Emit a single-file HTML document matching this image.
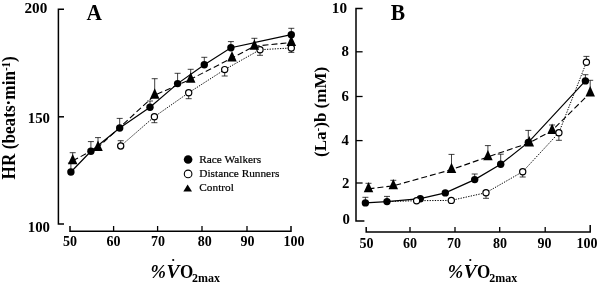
<!DOCTYPE html>
<html><head><meta charset="utf-8"><title>Figure</title>
<style>
html,body{margin:0;padding:0;background:#fff;}
body{width:600px;height:285px;overflow:hidden;}
svg{display:block;will-change:transform;}
text{font-family:"Liberation Serif",serif;fill:#000;}
</style></head>
<body>
<svg width="600" height="285" viewBox="0 0 600 285">
<rect width="600" height="285" fill="#fff"/>
<path d="M64 9.2 L58.4 9.2 L58.4 224 L64 224" stroke="#000" stroke-width="1.5" fill="none"/>
<path d="M58.4 116.8 L64 116.8" stroke="#000" stroke-width="1.5" fill="none"/>
<path d="M70 226 L70 231.3 L291 231.3 L291 226" stroke="#000" stroke-width="1.5" fill="none"/>
<path d="M113.6 226 L113.6 231.3" stroke="#000" stroke-width="1.3" fill="none"/>
<path d="M157.6 226 L157.6 231.3" stroke="#000" stroke-width="1.3" fill="none"/>
<path d="M202 226 L202 231.3" stroke="#000" stroke-width="1.3" fill="none"/>
<path d="M247 226 L247 231.3" stroke="#000" stroke-width="1.3" fill="none"/>
<path d="M120.70 146.00 L154.40 116.70 L188.70 92.70 L224.70 69.60 L260.00 49.70 L291.30 48.00" stroke="#000" stroke-width="1.0" fill="none" stroke-dasharray="1.3 1.3"/>
<path d="M72.70 160.83 L98.00 147.43 L154.70 95.23 L190.70 79.23 L232.00 58.03 L254.40 46.23 L291.30 42.53" stroke="#000" stroke-width="1.1" fill="none" stroke-dasharray="6 3"/>
<path d="M70.90 172.00 L90.90 151.30 L119.70 128.00 L150.00 107.30 L177.60 83.60 L204.30 64.70 L230.90 47.70 L291.30 34.70" stroke="#000" stroke-width="1.2" fill="none"/>
<path d="M120.70 146.00 L120.70 140.70 M117.70 140.70 L123.70 140.70" stroke="#000" stroke-width="0.75" fill="none"/>
<path d="M154.40 116.70 L154.40 122.70 M151.40 122.70 L157.40 122.70" stroke="#000" stroke-width="0.75" fill="none"/>
<path d="M188.70 92.70 L188.70 98.70 M185.70 98.70 L191.70 98.70" stroke="#000" stroke-width="0.75" fill="none"/>
<path d="M224.70 69.60 L224.70 76.00 M221.70 76.00 L227.70 76.00" stroke="#000" stroke-width="0.75" fill="none"/>
<path d="M260.00 49.70 L260.00 55.30 M257.00 55.30 L263.00 55.30" stroke="#000" stroke-width="0.75" fill="none"/>
<path d="M291.30 48.00 L291.30 52.40 M288.30 52.40 L294.30 52.40" stroke="#000" stroke-width="0.75" fill="none"/>
<path d="M72.70 160.83 L72.70 152.70 M69.70 152.70 L75.70 152.70" stroke="#000" stroke-width="0.75" fill="none"/>
<path d="M98.00 147.43 L98.00 137.60 M95.00 137.60 L101.00 137.60" stroke="#000" stroke-width="0.75" fill="none"/>
<path d="M154.70 95.23 L154.70 78.70 M151.70 78.70 L157.70 78.70" stroke="#000" stroke-width="0.75" fill="none"/>
<path d="M190.70 79.23 L190.70 69.30 M187.70 69.30 L193.70 69.30" stroke="#000" stroke-width="0.75" fill="none"/>
<path d="M254.40 46.23 L254.40 38.30 M251.40 38.30 L257.40 38.30" stroke="#000" stroke-width="0.75" fill="none"/>
<path d="M70.90 172.00 L70.90 163.00 M67.90 163.00 L73.90 163.00" stroke="#000" stroke-width="0.75" fill="none"/>
<path d="M90.90 151.30 L90.90 141.60 M87.90 141.60 L93.90 141.60" stroke="#000" stroke-width="0.75" fill="none"/>
<path d="M119.70 128.00 L119.70 118.40 M116.70 118.40 L122.70 118.40" stroke="#000" stroke-width="0.75" fill="none"/>
<path d="M150.00 107.30 L150.00 101.00 M147.00 101.00 L153.00 101.00" stroke="#000" stroke-width="0.75" fill="none"/>
<path d="M177.60 83.60 L177.60 73.30 M174.60 73.30 L180.60 73.30" stroke="#000" stroke-width="0.75" fill="none"/>
<path d="M204.30 64.70 L204.30 57.30 M201.30 57.30 L207.30 57.30" stroke="#000" stroke-width="0.75" fill="none"/>
<path d="M230.90 47.70 L230.90 41.60 M227.90 41.60 L233.90 41.60" stroke="#000" stroke-width="0.75" fill="none"/>
<path d="M291.30 34.70 L291.30 28.30 M288.30 28.30 L294.30 28.30" stroke="#000" stroke-width="0.75" fill="none"/>
<circle cx="120.7" cy="146" r="3.1" fill="#fff" stroke="#000" stroke-width="1.2"/>
<circle cx="154.4" cy="116.7" r="3.1" fill="#fff" stroke="#000" stroke-width="1.2"/>
<circle cx="188.7" cy="92.7" r="3.1" fill="#fff" stroke="#000" stroke-width="1.2"/>
<circle cx="224.7" cy="69.6" r="3.1" fill="#fff" stroke="#000" stroke-width="1.2"/>
<circle cx="260" cy="49.7" r="3.1" fill="#fff" stroke="#000" stroke-width="1.2"/>
<circle cx="291.3" cy="48" r="3.1" fill="#fff" stroke="#000" stroke-width="1.2"/>
<path d="M67.95 164.30 L77.45 164.30 L72.70 153.90 Z" fill="#000"/>
<path d="M93.25 150.90 L102.75 150.90 L98.00 140.50 Z" fill="#000"/>
<path d="M149.95 98.70 L159.45 98.70 L154.70 88.30 Z" fill="#000"/>
<path d="M185.95 82.70 L195.45 82.70 L190.70 72.30 Z" fill="#000"/>
<path d="M227.25 61.50 L236.75 61.50 L232.00 51.10 Z" fill="#000"/>
<path d="M249.65 49.70 L259.15 49.70 L254.40 39.30 Z" fill="#000"/>
<path d="M286.55 46.00 L296.05 46.00 L291.30 35.60 Z" fill="#000"/>
<circle cx="70.9" cy="172" r="3.7" fill="#000"/>
<circle cx="90.9" cy="151.3" r="3.7" fill="#000"/>
<circle cx="119.7" cy="128" r="3.7" fill="#000"/>
<circle cx="150" cy="107.3" r="3.7" fill="#000"/>
<circle cx="177.6" cy="83.6" r="3.7" fill="#000"/>
<circle cx="204.3" cy="64.7" r="3.7" fill="#000"/>
<circle cx="230.9" cy="47.7" r="3.7" fill="#000"/>
<circle cx="291.3" cy="34.7" r="3.7" fill="#000"/>
<circle cx="188.1" cy="159.5" r="4.3" fill="#000"/>
<circle cx="188.1" cy="173.9" r="3.8" fill="#fff" stroke="#000" stroke-width="1.1"/>
<path d="M183.3 191.4 L192 191.4 L187.65 184.6 Z" fill="#000"/>
<path d="M362.6 8.5 L356 8.5 L356 221 L364.4 221" stroke="#000" stroke-width="1.5" fill="none"/>
<path d="M356 51.8 L362.6 51.8" stroke="#000" stroke-width="1.3" fill="none"/>
<path d="M356 96.5 L362.6 96.5" stroke="#000" stroke-width="1.3" fill="none"/>
<path d="M356 140.6 L362.6 140.6" stroke="#000" stroke-width="1.3" fill="none"/>
<path d="M356 183 L362.6 183" stroke="#000" stroke-width="1.3" fill="none"/>
<path d="M366.2 227 L366.2 232 L590.2 232 L590.2 225" stroke="#000" stroke-width="1.5" fill="none"/>
<path d="M410 227 L410 232" stroke="#000" stroke-width="1.3" fill="none"/>
<path d="M455 227 L455 232" stroke="#000" stroke-width="1.3" fill="none"/>
<path d="M499.7 227 L499.7 232" stroke="#000" stroke-width="1.3" fill="none"/>
<path d="M545.2 227 L545.2 232" stroke="#000" stroke-width="1.3" fill="none"/>
<path d="M387.00 201.60 L416.60 200.70" stroke="#000" stroke-width="1.0" fill="none" stroke-dasharray="1.3 1.3"/>
<path d="M416.60 200.70 L451.30 200.40 L486.00 192.70 L522.70 171.70 L558.90 132.70 L586.40 62.30" stroke="#000" stroke-width="1.0" fill="none" stroke-dasharray="1.3 1.3"/>
<path d="M368.50 188.83 L393.30 185.83 L451.50 169.63 L487.90 156.83 L529.30 142.93 L552.10 130.53 L590.20 92.93" stroke="#000" stroke-width="1.1" fill="none" stroke-dasharray="6 3"/>
<path d="M365.40 202.90 L387.00 201.60 L420.30 198.70 L445.30 192.90 L474.70 179.60 L500.70 164.20 L528.30 142.40 L585.40 80.90" stroke="#000" stroke-width="1.2" fill="none"/>
<path d="M486.00 192.70 L486.00 198.30 M483.00 198.30 L489.00 198.30" stroke="#000" stroke-width="0.75" fill="none"/>
<path d="M522.70 171.70 L522.70 177.00 M519.70 177.00 L525.70 177.00" stroke="#000" stroke-width="0.75" fill="none"/>
<path d="M558.90 132.70 L558.90 140.30 M555.90 140.30 L561.90 140.30" stroke="#000" stroke-width="0.75" fill="none"/>
<path d="M586.40 62.30 L586.40 56.40 M583.40 56.40 L589.40 56.40" stroke="#000" stroke-width="0.75" fill="none"/>
<path d="M368.50 188.83 L368.50 183.30 M365.50 183.30 L371.50 183.30" stroke="#000" stroke-width="0.75" fill="none"/>
<path d="M393.30 185.83 L393.30 180.30 M390.30 180.30 L396.30 180.30" stroke="#000" stroke-width="0.75" fill="none"/>
<path d="M451.50 169.63 L451.50 154.40 M448.50 154.40 L454.50 154.40" stroke="#000" stroke-width="0.75" fill="none"/>
<path d="M487.90 156.83 L487.90 145.60 M484.90 145.60 L490.90 145.60" stroke="#000" stroke-width="0.75" fill="none"/>
<path d="M552.10 130.53 L552.10 125.00 M549.10 125.00 L555.10 125.00" stroke="#000" stroke-width="0.75" fill="none"/>
<path d="M590.20 92.93 L590.20 80.30 M587.20 80.30 L593.20 80.30" stroke="#000" stroke-width="0.75" fill="none"/>
<path d="M365.40 202.90 L365.40 197.30 M362.40 197.30 L368.40 197.30" stroke="#000" stroke-width="0.75" fill="none"/>
<path d="M387.00 201.60 L387.00 196.40 M384.00 196.40 L390.00 196.40" stroke="#000" stroke-width="0.75" fill="none"/>
<path d="M474.70 179.60 L474.70 174.00 M471.70 174.00 L477.70 174.00" stroke="#000" stroke-width="0.75" fill="none"/>
<path d="M500.70 164.20 L500.70 154.20 M497.70 154.20 L503.70 154.20" stroke="#000" stroke-width="0.75" fill="none"/>
<path d="M528.30 142.40 L528.30 130.40 M525.30 130.40 L531.30 130.40" stroke="#000" stroke-width="0.75" fill="none"/>
<path d="M585.40 80.90 L585.40 74.70 M582.40 74.70 L588.40 74.70" stroke="#000" stroke-width="0.75" fill="none"/>
<path d="M363.75 192.30 L373.25 192.30 L368.50 181.90 Z" fill="#000"/>
<path d="M388.55 189.30 L398.05 189.30 L393.30 178.90 Z" fill="#000"/>
<path d="M446.75 173.10 L456.25 173.10 L451.50 162.70 Z" fill="#000"/>
<path d="M483.15 160.30 L492.65 160.30 L487.90 149.90 Z" fill="#000"/>
<path d="M524.55 146.40 L534.05 146.40 L529.30 136.00 Z" fill="#000"/>
<path d="M547.35 134.00 L556.85 134.00 L552.10 123.60 Z" fill="#000"/>
<path d="M585.45 96.40 L594.95 96.40 L590.20 86.00 Z" fill="#000"/>
<circle cx="365.4" cy="202.9" r="3.7" fill="#000"/>
<circle cx="387" cy="201.6" r="3.7" fill="#000"/>
<circle cx="420.3" cy="198.7" r="3.7" fill="#000"/>
<circle cx="445.3" cy="192.9" r="3.7" fill="#000"/>
<circle cx="474.7" cy="179.6" r="3.7" fill="#000"/>
<circle cx="500.7" cy="164.2" r="3.7" fill="#000"/>
<circle cx="528.3" cy="142.4" r="3.7" fill="#000"/>
<circle cx="585.4" cy="80.9" r="3.7" fill="#000"/>
<circle cx="416.6" cy="200.7" r="3.1" fill="#fff" stroke="#000" stroke-width="1.2"/>
<circle cx="451.3" cy="200.4" r="3.1" fill="#fff" stroke="#000" stroke-width="1.2"/>
<circle cx="486" cy="192.7" r="3.1" fill="#fff" stroke="#000" stroke-width="1.2"/>
<circle cx="522.7" cy="171.7" r="3.1" fill="#fff" stroke="#000" stroke-width="1.2"/>
<circle cx="558.9" cy="132.7" r="3.1" fill="#fff" stroke="#000" stroke-width="1.2"/>
<circle cx="586.4" cy="62.3" r="3.1" fill="#fff" stroke="#000" stroke-width="1.2"/>
<text x="47.3" y="12.6" font-size="15.2" font-weight="bold" text-anchor="end" >200</text>
<text x="50" y="122.5" font-size="14.8" font-weight="bold" text-anchor="end" >150</text>
<text x="50" y="232" font-size="14.8" font-weight="bold" text-anchor="end" >100</text>
<text x="70" y="245.9" font-size="14" font-weight="bold" text-anchor="middle" >50</text>
<text x="113.6" y="245.9" font-size="14" font-weight="bold" text-anchor="middle" >60</text>
<text x="158" y="245.9" font-size="14" font-weight="bold" text-anchor="middle" >70</text>
<text x="204.7" y="245.9" font-size="14" font-weight="bold" text-anchor="middle" >80</text>
<text x="247.6" y="245.9" font-size="14" font-weight="bold" text-anchor="middle" >90</text>
<text x="293.9" y="245.9" font-size="14" font-weight="bold" text-anchor="middle" >100</text>
<g transform="translate(86.6,19.9) scale(0.915,1)"><text font-size="23.4" font-weight="bold">A</text></g>
<text x="347" y="13" font-size="15.2" font-weight="bold" text-anchor="end" >10</text>
<text x="348.8" y="55.8" font-size="14.8" font-weight="bold" text-anchor="end" >8</text>
<text x="348.8" y="100.5" font-size="14.8" font-weight="bold" text-anchor="end" >6</text>
<text x="348.8" y="145" font-size="14.8" font-weight="bold" text-anchor="end" >4</text>
<text x="349.5" y="188" font-size="14.8" font-weight="bold" text-anchor="end" >2</text>
<text x="350" y="224" font-size="14.8" font-weight="bold" text-anchor="end" >0</text>
<text x="366.4" y="247.8" font-size="14" font-weight="bold" text-anchor="middle" >50</text>
<text x="410" y="247.8" font-size="14" font-weight="bold" text-anchor="middle" >60</text>
<text x="454" y="247.8" font-size="14" font-weight="bold" text-anchor="middle" >70</text>
<text x="500" y="247.8" font-size="14" font-weight="bold" text-anchor="middle" >80</text>
<text x="544.4" y="247.8" font-size="14" font-weight="bold" text-anchor="middle" >90</text>
<text x="586.9" y="247.8" font-size="14" font-weight="bold" text-anchor="middle" >100</text>
<g transform="translate(390.8,20.0) scale(0.92,1)"><text font-size="23.4" font-weight="bold">B</text></g>
<text x="199.3" y="163" font-size="11.3" font-weight="normal" text-anchor="start" stroke="#000" stroke-width="0.2">Race Walkers</text>
<text x="199.3" y="177" font-size="11.3" font-weight="normal" text-anchor="start" stroke="#000" stroke-width="0.2">Distance Runners</text>
<text x="199.3" y="191" font-size="11.3" font-weight="normal" text-anchor="start" stroke="#000" stroke-width="0.2">Control</text>
<g transform="translate(14.6,179.4) rotate(-90) scale(0.905,1)"><text font-size="19" font-weight="bold">HR (beats·min<tspan font-size="12" dy="-4.2">-1</tspan><tspan dy="4.2">)</tspan></text></g>
<g transform="translate(326,157) rotate(-90) scale(1.03,1)"><text font-size="16.5" font-weight="bold">(La<tspan font-size="11" dy="-5.5">-</tspan><tspan dy="5.5">)b (mM)</tspan></text></g>
<g transform="translate(150.6,277.7) scale(0.945,1)"><text x="0" y="0" font-size="19.6" font-weight="bold" font-style="italic">%</text></g>
<g transform="translate(166.6,277.7) scale(0.99,1)"><text x="0" y="0" font-size="19.6" font-weight="bold" font-style="italic">V</text></g>
<g transform="translate(179.9,277.7) scale(0.87,1)"><text x="0" y="0" font-size="19.6" font-weight="bold" >O</text></g>
<text x="192.1" y="281.7" font-size="12" font-weight="bold">2max</text>
<circle cx="173.2" cy="260.0" r="1.1" fill="#000"/>
<g transform="translate(447.7,277.7) scale(0.945,1)"><text x="0" y="0" font-size="19.6" font-weight="bold" font-style="italic">%</text></g>
<g transform="translate(463.7,277.7) scale(0.99,1)"><text x="0" y="0" font-size="19.6" font-weight="bold" font-style="italic">V</text></g>
<g transform="translate(477.0,277.7) scale(0.87,1)"><text x="0" y="0" font-size="19.6" font-weight="bold" >O</text></g>
<text x="489.2" y="281.7" font-size="12" font-weight="bold">2max</text>
<circle cx="470.3" cy="260.0" r="1.1" fill="#000"/>
</svg>
</body></html>
